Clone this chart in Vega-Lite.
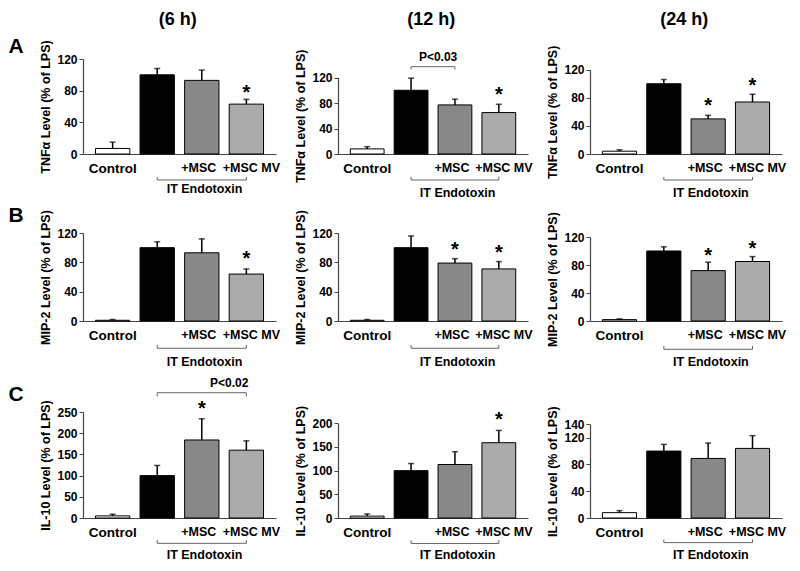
{
"$schema":"https://vega.github.io/schema/vega-lite/v6.json",
"padding":{"left":8,"top":10,"right":2,"bottom":2},
"background":"white",
"columns":4,
"align":"each",
"bounds":"flush",
"spacing":{"row":79,"column":62},
"concat":[
{"width":10,"height":95,"data":{"name":"letters"},"transform":[{"filter":"datum.r=='A'"}],"mark":{"type":"text","fontSize":21,"font":"Liberation Sans","fontWeight":"bold","color":"#000"},"encoding":{"y":{"field":"pos","type":"quantitative","scale":{"domain":[0,1],"nice":false},"axis":null},"text":{"field":"r"}}},
{"width":193,"height":95,
 "encoding":{
  "x":{"field":"g","type":"nominal","scale":{"domain":["Control","LPS","+MSC","+MSC MV"],"paddingInner":0.23,"paddingOuter":0.28},"axis":{"title":null,"values":["Control","+MSC","+MSC MV"]}},
  "y":{"field":"v","type":"quantitative","scale":{"domain":[0,120],"range":[95,0],"nice":false,"zero":false},"axis":{"values":[0,40,80,120],"title":"TNFα Level (% of LPS)"}}},
 "layer":[
  {"data":{"name":"bars"},"transform":[{"filter":"datum.p=='A6'"}],"mark":{"type":"bar","stroke":"#000","strokeWidth":1},"encoding":{"fill":{"field":"g","type":"nominal","scale":{"domain":["Control","LPS","+MSC","+MSC MV"],"range":["#ffffff","#000000","#888888","#ababab"]},"legend":null}}},
  {"data":{"name":"bars"},"transform":[{"filter":"datum.p=='A6'"}],"mark":{"type":"rule","color":"#000","strokeWidth":1.5},"encoding":{"y2":{"field":"hi"}}},
  {"data":{"name":"bars"},"transform":[{"filter":"datum.p=='A6'"}],"mark":{"type":"tick","orient":"horizontal","color":"#000","size":6,"thickness":1.5},"encoding":{"y":{"field":"hi","type":"quantitative"}}},
  {"data":{"name":"star"},"transform":[{"filter":"datum.p=='A6'"}],"mark":{"type":"text","fontSize":20,"color":"#000"},"encoding":{"text":{"value":"*"}}},
  {"data":{"name":"brk"},"transform":[{"filter":"datum.p=='A6'"}],"mark":{"type":"rule","color":"#666","strokeWidth":1},"encoding":{"x2":{"field":"g2"}}},
  {"data":{"name":"brt"},"transform":[{"filter":"datum.p=='A6'"}],"mark":{"type":"rule","color":"#666","strokeWidth":1},"encoding":{"y2":{"field":"v2"}}},
  {"data":{"name":"itx"},"transform":[{"filter":"datum.p=='A6'"}],"mark":{"type":"text","fontSize":12.5,"color":"#000"},"encoding":{"x":{"field":"g","type":"nominal","bandPosition":0.58},"text":{"field":"t"}}},
  {"data":{"name":"ttl"},"transform":[{"filter":"datum.p=='A6'"}],"mark":{"type":"text","fontSize":18,"color":"#000"},"encoding":{"x":{"field":"g","type":"nominal","bandPosition":1.1},"text":{"field":"t"}}}
 ]},
{"width":190,"height":95,
 "encoding":{
  "x":{"field":"g","type":"nominal","scale":{"domain":["Control","LPS","+MSC","+MSC MV"],"paddingInner":0.23,"paddingOuter":0.28},"axis":{"title":null,"values":["Control","+MSC","+MSC MV"]}},
  "y":{"field":"v","type":"quantitative","scale":{"domain":[0,120],"range":[95,18.5],"nice":false,"zero":false},"axis":{"values":[0,40,80,120],"title":"TNFα Level (% of LPS)"}}},
 "layer":[
  {"data":{"name":"bars"},"transform":[{"filter":"datum.p=='A12'"}],"mark":{"type":"bar","stroke":"#000","strokeWidth":1},"encoding":{"fill":{"field":"g","type":"nominal","scale":{"domain":["Control","LPS","+MSC","+MSC MV"],"range":["#ffffff","#000000","#888888","#ababab"]},"legend":null}}},
  {"data":{"name":"bars"},"transform":[{"filter":"datum.p=='A12'"}],"mark":{"type":"rule","color":"#000","strokeWidth":1.5},"encoding":{"y2":{"field":"hi"}}},
  {"data":{"name":"bars"},"transform":[{"filter":"datum.p=='A12'"}],"mark":{"type":"tick","orient":"horizontal","color":"#000","size":6,"thickness":1.5},"encoding":{"y":{"field":"hi","type":"quantitative"}}},
  {"data":{"name":"star"},"transform":[{"filter":"datum.p=='A12'"}],"mark":{"type":"text","fontSize":20,"color":"#000"},"encoding":{"text":{"value":"*"}}},
  {"data":{"name":"brk"},"transform":[{"filter":"datum.p=='A12'"}],"mark":{"type":"rule","color":"#666","strokeWidth":1},"encoding":{"x2":{"field":"g2"}}},
  {"data":{"name":"brt"},"transform":[{"filter":"datum.p=='A12'"}],"mark":{"type":"rule","color":"#666","strokeWidth":1},"encoding":{"y2":{"field":"v2"}}},
  {"data":{"name":"itx"},"transform":[{"filter":"datum.p=='A12'"}],"mark":{"type":"text","fontSize":12.5,"color":"#000"},"encoding":{"x":{"field":"g","type":"nominal","bandPosition":0.58},"text":{"field":"t"}}},
  {"data":{"name":"ptx"},"transform":[{"filter":"datum.p=='A12'"}],"mark":{"type":"text","fontSize":12,"color":"#000"},"encoding":{"x":{"field":"g","type":"nominal","bandPosition":1.3},"text":{"field":"t"}}},
  {"data":{"name":"ttl"},"transform":[{"filter":"datum.p=='A12'"}],"mark":{"type":"text","fontSize":18,"color":"#000"},"encoding":{"x":{"field":"g","type":"nominal","bandPosition":1.1},"text":{"field":"t"}}}
 ]},
{"width":192,"height":95,
 "encoding":{
  "x":{"field":"g","type":"nominal","scale":{"domain":["Control","LPS","+MSC","+MSC MV"],"paddingInner":0.23,"paddingOuter":0.28},"axis":{"title":null,"values":["Control","+MSC","+MSC MV"]}},
  "y":{"field":"v","type":"quantitative","scale":{"domain":[0,120],"range":[95,10.7],"nice":false,"zero":false},"axis":{"values":[0,40,80,120],"title":"TNFα Level (% of LPS)"}}},
 "layer":[
  {"data":{"name":"bars"},"transform":[{"filter":"datum.p=='A24'"}],"mark":{"type":"bar","stroke":"#000","strokeWidth":1},"encoding":{"fill":{"field":"g","type":"nominal","scale":{"domain":["Control","LPS","+MSC","+MSC MV"],"range":["#ffffff","#000000","#888888","#ababab"]},"legend":null}}},
  {"data":{"name":"bars"},"transform":[{"filter":"datum.p=='A24'"}],"mark":{"type":"rule","color":"#000","strokeWidth":1.5},"encoding":{"y2":{"field":"hi"}}},
  {"data":{"name":"bars"},"transform":[{"filter":"datum.p=='A24'"}],"mark":{"type":"tick","orient":"horizontal","color":"#000","size":6,"thickness":1.5},"encoding":{"y":{"field":"hi","type":"quantitative"}}},
  {"data":{"name":"star"},"transform":[{"filter":"datum.p=='A24'"}],"mark":{"type":"text","fontSize":20,"color":"#000"},"encoding":{"text":{"value":"*"}}},
  {"data":{"name":"brk"},"transform":[{"filter":"datum.p=='A24'"}],"mark":{"type":"rule","color":"#666","strokeWidth":1},"encoding":{"x2":{"field":"g2"}}},
  {"data":{"name":"brt"},"transform":[{"filter":"datum.p=='A24'"}],"mark":{"type":"rule","color":"#666","strokeWidth":1},"encoding":{"y2":{"field":"v2"}}},
  {"data":{"name":"itx"},"transform":[{"filter":"datum.p=='A24'"}],"mark":{"type":"text","fontSize":12.5,"color":"#000"},"encoding":{"x":{"field":"g","type":"nominal","bandPosition":0.58},"text":{"field":"t"}}},
  {"data":{"name":"ttl"},"transform":[{"filter":"datum.p=='A24'"}],"mark":{"type":"text","fontSize":18,"color":"#000"},"encoding":{"x":{"field":"g","type":"nominal","bandPosition":1.1},"text":{"field":"t"}}}
 ]},
{"width":10,"height":88,"data":{"name":"letters"},"transform":[{"filter":"datum.r=='B'"}],"mark":{"type":"text","fontSize":21,"font":"Liberation Sans","fontWeight":"bold","color":"#000"},"encoding":{"y":{"field":"pos","type":"quantitative","scale":{"domain":[0,1],"nice":false},"axis":null},"text":{"field":"r"}}},
{"width":193,"height":88,
 "encoding":{
  "x":{"field":"g","type":"nominal","scale":{"domain":["Control","LPS","+MSC","+MSC MV"],"paddingInner":0.23,"paddingOuter":0.28},"axis":{"title":null,"values":["Control","+MSC","+MSC MV"]}},
  "y":{"field":"v","type":"quantitative","scale":{"domain":[0,120],"range":[88,0],"nice":false,"zero":false},"axis":{"values":[0,40,80,120],"title":"MIP-2 Level (% of LPS)"}}},
 "layer":[
  {"data":{"name":"bars"},"transform":[{"filter":"datum.p=='B6'"}],"mark":{"type":"bar","stroke":"#000","strokeWidth":1},"encoding":{"fill":{"field":"g","type":"nominal","scale":{"domain":["Control","LPS","+MSC","+MSC MV"],"range":["#ffffff","#000000","#888888","#ababab"]},"legend":null}}},
  {"data":{"name":"bars"},"transform":[{"filter":"datum.p=='B6'"}],"mark":{"type":"rule","color":"#000","strokeWidth":1.5},"encoding":{"y2":{"field":"hi"}}},
  {"data":{"name":"bars"},"transform":[{"filter":"datum.p=='B6'"}],"mark":{"type":"tick","orient":"horizontal","color":"#000","size":6,"thickness":1.5},"encoding":{"y":{"field":"hi","type":"quantitative"}}},
  {"data":{"name":"star"},"transform":[{"filter":"datum.p=='B6'"}],"mark":{"type":"text","fontSize":20,"color":"#000"},"encoding":{"text":{"value":"*"}}},
  {"data":{"name":"brk"},"transform":[{"filter":"datum.p=='B6'"}],"mark":{"type":"rule","color":"#666","strokeWidth":1},"encoding":{"x2":{"field":"g2"}}},
  {"data":{"name":"brt"},"transform":[{"filter":"datum.p=='B6'"}],"mark":{"type":"rule","color":"#666","strokeWidth":1},"encoding":{"y2":{"field":"v2"}}},
  {"data":{"name":"itx"},"transform":[{"filter":"datum.p=='B6'"}],"mark":{"type":"text","fontSize":12.5,"color":"#000"},"encoding":{"x":{"field":"g","type":"nominal","bandPosition":0.58},"text":{"field":"t"}}}
 ]},
{"width":190,"height":88,
 "encoding":{
  "x":{"field":"g","type":"nominal","scale":{"domain":["Control","LPS","+MSC","+MSC MV"],"paddingInner":0.23,"paddingOuter":0.28},"axis":{"title":null,"values":["Control","+MSC","+MSC MV"]}},
  "y":{"field":"v","type":"quantitative","scale":{"domain":[0,120],"range":[88,0],"nice":false,"zero":false},"axis":{"values":[0,40,80,120],"title":"MIP-2 Level (% of LPS)"}}},
 "layer":[
  {"data":{"name":"bars"},"transform":[{"filter":"datum.p=='B12'"}],"mark":{"type":"bar","stroke":"#000","strokeWidth":1},"encoding":{"fill":{"field":"g","type":"nominal","scale":{"domain":["Control","LPS","+MSC","+MSC MV"],"range":["#ffffff","#000000","#888888","#ababab"]},"legend":null}}},
  {"data":{"name":"bars"},"transform":[{"filter":"datum.p=='B12'"}],"mark":{"type":"rule","color":"#000","strokeWidth":1.5},"encoding":{"y2":{"field":"hi"}}},
  {"data":{"name":"bars"},"transform":[{"filter":"datum.p=='B12'"}],"mark":{"type":"tick","orient":"horizontal","color":"#000","size":6,"thickness":1.5},"encoding":{"y":{"field":"hi","type":"quantitative"}}},
  {"data":{"name":"star"},"transform":[{"filter":"datum.p=='B12'"}],"mark":{"type":"text","fontSize":20,"color":"#000"},"encoding":{"text":{"value":"*"}}},
  {"data":{"name":"brk"},"transform":[{"filter":"datum.p=='B12'"}],"mark":{"type":"rule","color":"#666","strokeWidth":1},"encoding":{"x2":{"field":"g2"}}},
  {"data":{"name":"brt"},"transform":[{"filter":"datum.p=='B12'"}],"mark":{"type":"rule","color":"#666","strokeWidth":1},"encoding":{"y2":{"field":"v2"}}},
  {"data":{"name":"itx"},"transform":[{"filter":"datum.p=='B12'"}],"mark":{"type":"text","fontSize":12.5,"color":"#000"},"encoding":{"x":{"field":"g","type":"nominal","bandPosition":0.58},"text":{"field":"t"}}}
 ]},
{"width":192,"height":88,
 "encoding":{
  "x":{"field":"g","type":"nominal","scale":{"domain":["Control","LPS","+MSC","+MSC MV"],"paddingInner":0.23,"paddingOuter":0.28},"axis":{"title":null,"values":["Control","+MSC","+MSC MV"]}},
  "y":{"field":"v","type":"quantitative","scale":{"domain":[0,120],"range":[88,4],"nice":false,"zero":false},"axis":{"values":[0,40,80,120],"title":"MIP-2 Level (% of LPS)"}}},
 "layer":[
  {"data":{"name":"bars"},"transform":[{"filter":"datum.p=='B24'"}],"mark":{"type":"bar","stroke":"#000","strokeWidth":1},"encoding":{"fill":{"field":"g","type":"nominal","scale":{"domain":["Control","LPS","+MSC","+MSC MV"],"range":["#ffffff","#000000","#888888","#ababab"]},"legend":null}}},
  {"data":{"name":"bars"},"transform":[{"filter":"datum.p=='B24'"}],"mark":{"type":"rule","color":"#000","strokeWidth":1.5},"encoding":{"y2":{"field":"hi"}}},
  {"data":{"name":"bars"},"transform":[{"filter":"datum.p=='B24'"}],"mark":{"type":"tick","orient":"horizontal","color":"#000","size":6,"thickness":1.5},"encoding":{"y":{"field":"hi","type":"quantitative"}}},
  {"data":{"name":"star"},"transform":[{"filter":"datum.p=='B24'"}],"mark":{"type":"text","fontSize":20,"color":"#000"},"encoding":{"text":{"value":"*"}}},
  {"data":{"name":"brk"},"transform":[{"filter":"datum.p=='B24'"}],"mark":{"type":"rule","color":"#666","strokeWidth":1},"encoding":{"x2":{"field":"g2"}}},
  {"data":{"name":"brt"},"transform":[{"filter":"datum.p=='B24'"}],"mark":{"type":"rule","color":"#666","strokeWidth":1},"encoding":{"y2":{"field":"v2"}}},
  {"data":{"name":"itx"},"transform":[{"filter":"datum.p=='B24'"}],"mark":{"type":"text","fontSize":12.5,"color":"#000"},"encoding":{"x":{"field":"g","type":"nominal","bandPosition":0.58},"text":{"field":"t"}}}
 ]},
{"width":10,"height":118,"data":{"name":"letters"},"transform":[{"filter":"datum.r=='C'"}],"mark":{"type":"text","fontSize":21,"font":"Liberation Sans","fontWeight":"bold","color":"#000"},"encoding":{"y":{"field":"pos","type":"quantitative","scale":{"domain":[0,1],"nice":false},"axis":null},"text":{"field":"r"}}},
{"width":193,"height":118,
 "encoding":{
  "x":{"field":"g","type":"nominal","scale":{"domain":["Control","LPS","+MSC","+MSC MV"],"paddingInner":0.23,"paddingOuter":0.28},"axis":{"title":null,"values":["Control","+MSC","+MSC MV"]}},
  "y":{"field":"v","type":"quantitative","scale":{"domain":[0,250],"range":[118,12],"nice":false,"zero":false},"axis":{"values":[0,50,100,150,200,250],"title":"IL-10 Level (% of LPS)"}}},
 "layer":[
  {"data":{"name":"bars"},"transform":[{"filter":"datum.p=='C6'"}],"mark":{"type":"bar","stroke":"#000","strokeWidth":1},"encoding":{"fill":{"field":"g","type":"nominal","scale":{"domain":["Control","LPS","+MSC","+MSC MV"],"range":["#ffffff","#000000","#888888","#ababab"]},"legend":null}}},
  {"data":{"name":"bars"},"transform":[{"filter":"datum.p=='C6'"}],"mark":{"type":"rule","color":"#000","strokeWidth":1.5},"encoding":{"y2":{"field":"hi"}}},
  {"data":{"name":"bars"},"transform":[{"filter":"datum.p=='C6'"}],"mark":{"type":"tick","orient":"horizontal","color":"#000","size":6,"thickness":1.5},"encoding":{"y":{"field":"hi","type":"quantitative"}}},
  {"data":{"name":"star"},"transform":[{"filter":"datum.p=='C6'"}],"mark":{"type":"text","fontSize":20,"color":"#000"},"encoding":{"text":{"value":"*"}}},
  {"data":{"name":"brk"},"transform":[{"filter":"datum.p=='C6'"}],"mark":{"type":"rule","color":"#666","strokeWidth":1},"encoding":{"x2":{"field":"g2"}}},
  {"data":{"name":"brt"},"transform":[{"filter":"datum.p=='C6'"}],"mark":{"type":"rule","color":"#666","strokeWidth":1},"encoding":{"y2":{"field":"v2"}}},
  {"data":{"name":"itx"},"transform":[{"filter":"datum.p=='C6'"}],"mark":{"type":"text","fontSize":12.5,"color":"#000"},"encoding":{"x":{"field":"g","type":"nominal","bandPosition":0.58},"text":{"field":"t"}}},
  {"data":{"name":"ptx"},"transform":[{"filter":"datum.p=='C6'"}],"mark":{"type":"text","fontSize":12,"color":"#000"},"encoding":{"x":{"field":"g","type":"nominal","bandPosition":1.3},"text":{"field":"t"}}}
 ]},
{"width":190,"height":118,
 "encoding":{
  "x":{"field":"g","type":"nominal","scale":{"domain":["Control","LPS","+MSC","+MSC MV"],"paddingInner":0.23,"paddingOuter":0.28},"axis":{"title":null,"values":["Control","+MSC","+MSC MV"]}},
  "y":{"field":"v","type":"quantitative","scale":{"domain":[0,200],"range":[118,23.3],"nice":false,"zero":false},"axis":{"values":[0,50,100,150,200],"title":"IL-10 Level (% of LPS)"}}},
 "layer":[
  {"data":{"name":"bars"},"transform":[{"filter":"datum.p=='C12'"}],"mark":{"type":"bar","stroke":"#000","strokeWidth":1},"encoding":{"fill":{"field":"g","type":"nominal","scale":{"domain":["Control","LPS","+MSC","+MSC MV"],"range":["#ffffff","#000000","#888888","#ababab"]},"legend":null}}},
  {"data":{"name":"bars"},"transform":[{"filter":"datum.p=='C12'"}],"mark":{"type":"rule","color":"#000","strokeWidth":1.5},"encoding":{"y2":{"field":"hi"}}},
  {"data":{"name":"bars"},"transform":[{"filter":"datum.p=='C12'"}],"mark":{"type":"tick","orient":"horizontal","color":"#000","size":6,"thickness":1.5},"encoding":{"y":{"field":"hi","type":"quantitative"}}},
  {"data":{"name":"star"},"transform":[{"filter":"datum.p=='C12'"}],"mark":{"type":"text","fontSize":20,"color":"#000"},"encoding":{"text":{"value":"*"}}},
  {"data":{"name":"brk"},"transform":[{"filter":"datum.p=='C12'"}],"mark":{"type":"rule","color":"#666","strokeWidth":1},"encoding":{"x2":{"field":"g2"}}},
  {"data":{"name":"brt"},"transform":[{"filter":"datum.p=='C12'"}],"mark":{"type":"rule","color":"#666","strokeWidth":1},"encoding":{"y2":{"field":"v2"}}},
  {"data":{"name":"itx"},"transform":[{"filter":"datum.p=='C12'"}],"mark":{"type":"text","fontSize":12.5,"color":"#000"},"encoding":{"x":{"field":"g","type":"nominal","bandPosition":0.58},"text":{"field":"t"}}}
 ]},
{"width":192,"height":118,
 "encoding":{
  "x":{"field":"g","type":"nominal","scale":{"domain":["Control","LPS","+MSC","+MSC MV"],"paddingInner":0.23,"paddingOuter":0.28},"axis":{"title":null,"values":["Control","+MSC","+MSC MV"]}},
  "y":{"field":"v","type":"quantitative","scale":{"domain":[0,140],"range":[118,24.3],"nice":false,"zero":false},"axis":{"values":[0,40,80,120,140],"title":"IL-10 Level (% of LPS)"}}},
 "layer":[
  {"data":{"name":"bars"},"transform":[{"filter":"datum.p=='C24'"}],"mark":{"type":"bar","stroke":"#000","strokeWidth":1},"encoding":{"fill":{"field":"g","type":"nominal","scale":{"domain":["Control","LPS","+MSC","+MSC MV"],"range":["#ffffff","#000000","#888888","#ababab"]},"legend":null}}},
  {"data":{"name":"bars"},"transform":[{"filter":"datum.p=='C24'"}],"mark":{"type":"rule","color":"#000","strokeWidth":1.5},"encoding":{"y2":{"field":"hi"}}},
  {"data":{"name":"bars"},"transform":[{"filter":"datum.p=='C24'"}],"mark":{"type":"tick","orient":"horizontal","color":"#000","size":6,"thickness":1.5},"encoding":{"y":{"field":"hi","type":"quantitative"}}},
  {"data":{"name":"brk"},"transform":[{"filter":"datum.p=='C24'"}],"mark":{"type":"rule","color":"#666","strokeWidth":1},"encoding":{"x2":{"field":"g2"}}},
  {"data":{"name":"brt"},"transform":[{"filter":"datum.p=='C24'"}],"mark":{"type":"rule","color":"#666","strokeWidth":1},"encoding":{"y2":{"field":"v2"}}},
  {"data":{"name":"itx"},"transform":[{"filter":"datum.p=='C24'"}],"mark":{"type":"text","fontSize":12.5,"color":"#000"},"encoding":{"x":{"field":"g","type":"nominal","bandPosition":0.58},"text":{"field":"t"}}}
 ]}
],
"datasets":{
"letters":[{"r":"A","pos":1.126},{"r":"B","pos":1.19},{"r":"C","pos":1.042}],
"bars":[
{"p":"A6","g":"Control","v":7,"hi":15},{"p":"A6","g":"LPS","v":100,"hi":108},{"p":"A6","g":"+MSC","v":93,"hi":106},{"p":"A6","g":"+MSC MV","v":63,"hi":69},
{"p":"A12","g":"Control","v":8,"hi":11.5},{"p":"A12","g":"LPS","v":100,"hi":119},{"p":"A12","g":"+MSC","v":77,"hi":86},{"p":"A12","g":"+MSC MV","v":65,"hi":78},
{"p":"A24","g":"Control","v":4,"hi":6},{"p":"A24","g":"LPS","v":100,"hi":106},{"p":"A24","g":"+MSC","v":50,"hi":55},{"p":"A24","g":"+MSC MV","v":74,"hi":85},
{"p":"B6","g":"Control","v":1,"hi":2},{"p":"B6","g":"LPS","v":100,"hi":108},{"p":"B6","g":"+MSC","v":93,"hi":112},{"p":"B6","g":"+MSC MV","v":64,"hi":71},
{"p":"B12","g":"Control","v":1,"hi":2},{"p":"B12","g":"LPS","v":100,"hi":116},{"p":"B12","g":"+MSC","v":79,"hi":85},{"p":"B12","g":"+MSC MV","v":71,"hi":81},
{"p":"B24","g":"Control","v":2,"hi":3},{"p":"B24","g":"LPS","v":100,"hi":106},{"p":"B24","g":"+MSC","v":72,"hi":84},{"p":"B24","g":"+MSC MV","v":85,"hi":92},
{"p":"C6","g":"Control","v":5,"hi":9},{"p":"C6","g":"LPS","v":100,"hi":124},{"p":"C6","g":"+MSC","v":184,"hi":234},{"p":"C6","g":"+MSC MV","v":160,"hi":182},
{"p":"C12","g":"Control","v":4,"hi":8.5},{"p":"C12","g":"LPS","v":100,"hi":115},{"p":"C12","g":"+MSC","v":113,"hi":140},{"p":"C12","g":"+MSC MV","v":159,"hi":185},
{"p":"C24","g":"Control","v":8,"hi":11},{"p":"C24","g":"LPS","v":100,"hi":110},{"p":"C24","g":"+MSC","v":89,"hi":112},{"p":"C24","g":"+MSC MV","v":104,"hi":123}
],
"star":[
{"p":"A6","g":"+MSC MV","v":76.8},{"p":"A12","g":"+MSC MV","v":92.9},{"p":"A24","g":"+MSC","v":69},{"p":"A24","g":"+MSC MV","v":97.5},
{"p":"B6","g":"+MSC MV","v":84.8},{"p":"B12","g":"+MSC","v":96.2},{"p":"B12","g":"+MSC MV","v":93},{"p":"B24","g":"+MSC","v":92.6},{"p":"B24","g":"+MSC MV","v":103.1},
{"p":"C6","g":"+MSC","v":257.5},{"p":"C12","g":"+MSC MV","v":206}
],
"brk":[
{"p":"A6","g":"LPS","g2":"+MSC MV","v":-32.8},
{"p":"A12","g":"LPS","g2":"+MSC MV","v":-40.8},{"p":"A12","g":"LPS","g2":"+MSC","v":137},
{"p":"A24","g":"LPS","g2":"+MSC MV","v":-37},
{"p":"B6","g":"LPS","g2":"+MSC MV","v":-37.2},
{"p":"B12","g":"LPS","g2":"+MSC MV","v":-37.2},
{"p":"B24","g":"LPS","g2":"+MSC MV","v":-40.4},
{"p":"C6","g":"LPS","g2":"+MSC MV","v":-59.7},{"p":"C6","g":"LPS","g2":"+MSC MV","v":295.5},
{"p":"C12","g":"LPS","g2":"+MSC MV","v":-53.8},
{"p":"C24","g":"LPS","g2":"+MSC MV","v":-36.8}
],
"brt":[
{"p":"A6","g":"LPS","v":-32.8,"v2":-29},{"p":"A6","g":"+MSC MV","v":-32.8,"v2":-29},
{"p":"A12","g":"LPS","v":-40.8,"v2":-35.6},{"p":"A12","g":"+MSC MV","v":-40.8,"v2":-35.6},
{"p":"A12","g":"LPS","v":137,"v2":132.5},{"p":"A12","g":"+MSC","v":137,"v2":132.5},
{"p":"A24","g":"LPS","v":-37,"v2":-32.7},{"p":"A24","g":"+MSC MV","v":-37,"v2":-32.7},
{"p":"B6","g":"LPS","v":-37.2,"v2":-32.7},{"p":"B6","g":"+MSC MV","v":-37.2,"v2":-32.7},
{"p":"B12","g":"LPS","v":-37.2,"v2":-32.7},{"p":"B12","g":"+MSC MV","v":-37.2,"v2":-32.7},
{"p":"B24","g":"LPS","v":-40.4,"v2":-35.7},{"p":"B24","g":"+MSC MV","v":-40.4,"v2":-35.7},
{"p":"C6","g":"LPS","v":-59.7,"v2":-51.9},{"p":"C6","g":"+MSC MV","v":-59.7,"v2":-51.9},
{"p":"C6","g":"LPS","v":295.5,"v2":286.6},{"p":"C6","g":"+MSC MV","v":295.5,"v2":286.6},
{"p":"C12","g":"LPS","v":-53.8,"v2":-46.8},{"p":"C12","g":"+MSC MV","v":-53.8,"v2":-46.8},
{"p":"C24","g":"LPS","v":-36.8,"v2":-32},{"p":"C24","g":"+MSC MV","v":-36.8,"v2":-32}
],
"itx":[
{"p":"A6","g":"+MSC","v":-43.6,"t":"IT Endotoxin"},{"p":"A12","g":"+MSC","v":-60.7,"t":"IT Endotoxin"},{"p":"A24","g":"+MSC","v":-55.1,"t":"IT Endotoxin"},
{"p":"B6","g":"+MSC","v":-55.5,"t":"IT Endotoxin"},{"p":"B12","g":"+MSC","v":-55.5,"t":"IT Endotoxin"},{"p":"B24","g":"+MSC","v":-58.1,"t":"IT Endotoxin"},
{"p":"C6","g":"+MSC","v":-87.3,"t":"IT Endotoxin"},{"p":"C12","g":"+MSC","v":-78.7,"t":"IT Endotoxin"},{"p":"C24","g":"+MSC","v":-55.1,"t":"IT Endotoxin"}
],
"ptx":[{"p":"A12","g":"LPS","v":152.6,"t":"P<0.03"},{"p":"C6","g":"+MSC","v":317.7,"t":"P<0.02"}],
"ttl":[{"p":"A6","g":"LPS","v":169.3,"t":"(6 h)"},{"p":"A12","g":"LPS","v":210,"t":"(12 h)"},{"p":"A24","g":"LPS","v":190.7,"t":"(24 h)"}]
},
"config":{
 "view":{"stroke":null},
 "font":"Liberation Sans",
 "axis":{"grid":false,"domainColor":"#444","tickColor":"#444","labelColor":"#000","titleColor":"#000","labelFont":"Liberation Sans","titleFont":"Liberation Sans","labelFontWeight":"bold","titleFontWeight":"bold","domainWidth":1.2},
 "axisX":{"ticks":false,"labelFontSize":{"condition":{"test":"datum.value == 'Control'","value":13.5},"value":12.5},"labelAngle":0,"labelPadding":7,"labelOverlap":false,"labelOffset":{"condition":[{"test":"datum.value == '+MSC MV'","value":5},{"test":"datum.value == '+MSC'","value":-3}],"value":0}},
 "axisY":{"labelFontSize":12,"titleFontSize":12.5,"tickSize":4,"labelPadding":2,"titlePadding":4,"labelOverlap":false},
 "text":{"font":"Liberation Sans","fontWeight":"bold"}
}
}
